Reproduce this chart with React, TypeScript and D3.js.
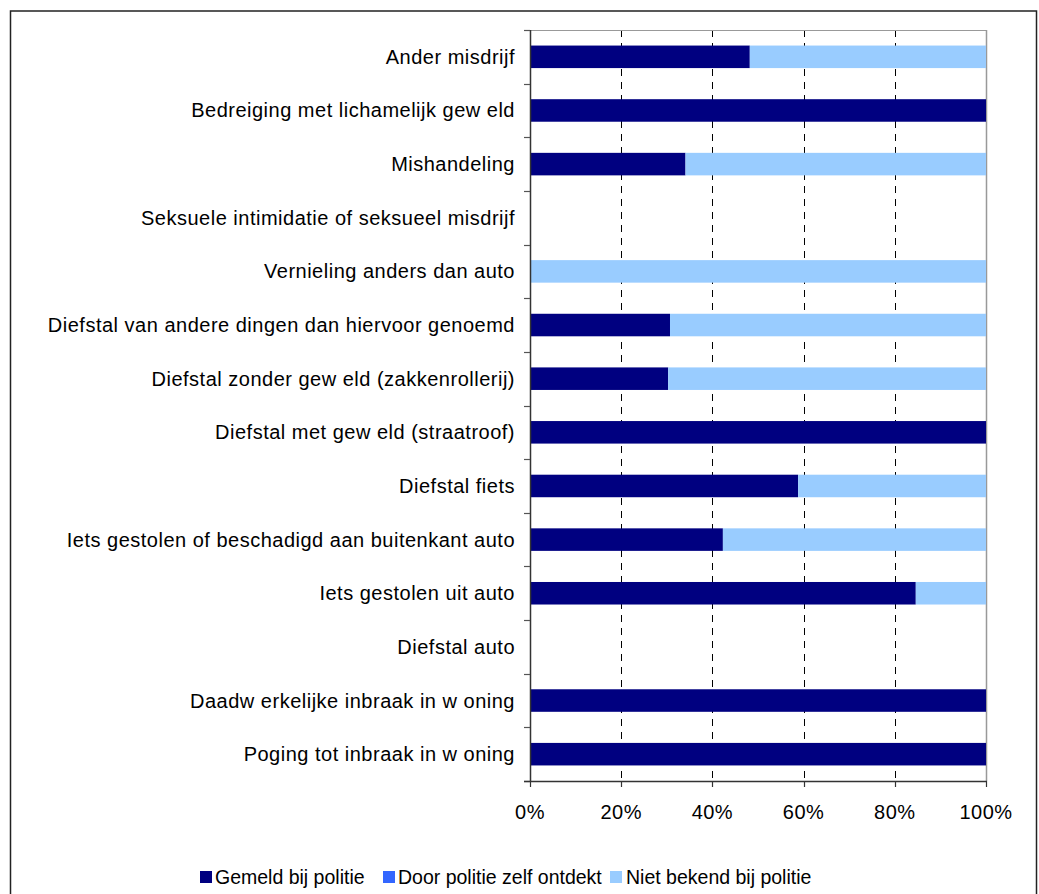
import React from "react";
import * as d3 from "d3";

const categories = [
  "Ander misdrijf",
  "Bedreiging met lichamelijk gew eld",
  "Mishandeling",
  "Seksuele intimidatie of seksueel misdrijf",
  "Vernieling anders dan auto",
  "Diefstal van andere dingen dan hiervoor genoemd",
  "Diefstal zonder gew eld (zakkenrollerij)",
  "Diefstal met gew eld (straatroof)",
  "Diefstal fiets",
  "Iets gestolen of beschadigd aan buitenkant auto",
  "Iets gestolen uit auto",
  "Diefstal auto",
  "Daadw erkelijke inbraak in w oning",
  "Poging tot inbraak in w oning",
];

const gemeld = [48.2, 100, 34.1, 0, 0, 30.7, 30.3, 100, 58.8, 42.3, 84.6, 0, 100, 100];
const ontdekt = [0, 0, 0, 0, 0, 0, 0, 0, 0, 0, 0, 0, 0, 0];
const nietBekend = [51.8, 0, 65.9, 0, 100, 69.3, 69.7, 0, 41.2, 57.7, 15.4, 0, 0, 0];

const seriesNames = ["Gemeld bij politie", "Door politie zelf ontdekt", "Niet bekend bij politie"];
const seriesColors = ["#000080", "#3366FF", "#99CCFF"];
const xTicks = [0, 20, 40, 60, 80, 100];

export default function App() {
  const W = 1039, H = 894;
  const x0 = 530, x1 = 986, y0 = 30, y1 = 781;
  const x = d3.scaleLinear().domain([0, 100]).range([x0, x1]);
  const y = d3.scaleBand().domain(categories).range([y0, y1]).paddingInner(0.58).paddingOuter(0.29);
  const band = (y1 - y0) / categories.length;
  const font = "Arial, 'Liberation Sans', sans-serif";
  const fs = 20;
  const ls = 0.5;
  const series = [gemeld, ontdekt, nietBekend];

  const legendItems = [
    { sx: 200, tx: 215 },
    { sx: 383, tx: 398 },
    { sx: 610, tx: 626 },
  ];

  return (
    <svg width={W} height={H} style={{ position: "absolute", left: 0, top: 0, background: "#fff" }}>
      <rect x={0} y={0} width={W} height={H} fill="#fff" />
      <rect x={10.5} y={11} width={1026} height={920} fill="#fff" stroke="#222" strokeWidth={1.5} />
      {xTicks.slice(1, -1).map((t) => (
        <line key={t} x1={Math.round(x(t)) + 0.5} x2={Math.round(x(t)) + 0.5} y1={y0} y2={y1} stroke="#000" strokeDasharray="7,6" />
      ))}
      <line x1={x0} x2={x1} y1={y0 + 0.5} y2={y0 + 0.5} stroke="#999" strokeWidth={1} />
      <line x1={x1 + 0.5} x2={x1 + 0.5} y1={y0} y2={y1} stroke="#999" strokeWidth={1.5} />
      {categories.map((c, i) => {
        let acc = 0;
        return series.map((s, k) => {
          const v = s[i];
          const start = acc;
          acc += v;
          if (v <= 0) return null;
          return (
            <rect key={c + k} x={x(start)} y={y(c)!} width={x(start + v) - x(start)} height={y.bandwidth()} fill={seriesColors[k]} />
          );
        });
      })}
      <line x1={x0 + 0.5} x2={x0 + 0.5} y1={y0} y2={y1 + 1} stroke="#333" strokeWidth={1.5} />
      {d3.range(categories.length + 1).map((i) => (
        <line key={"lt" + i} x1={x0 - 6} x2={x0} y1={Math.round(y0 + i * band) + 0.5} y2={Math.round(y0 + i * band) + 0.5} stroke="#555" strokeWidth={1.2} />
      ))}
      <line x1={x0 - 6} x2={x1 + 1} y1={y1 + 0.5} y2={y1 + 0.5} stroke="#333" strokeWidth={1.5} />
      {xTicks.map((t) => (
        <line key={"bt" + t} x1={Math.round(x(t)) + 0.5} x2={Math.round(x(t)) + 0.5} y1={y1} y2={y1 + 6} stroke="#333" strokeWidth={1.2} />
      ))}
      {xTicks.map((t) => (
        <text key={"bl" + t} x={x(t)} y={819} textAnchor="middle" fontFamily={font} fontSize={fs} letterSpacing={ls} fill="#000">
          {t + "%"}
        </text>
      ))}
      {categories.map((c) => (
        <text key={"cl" + c} x={515} y={y(c)! + y.bandwidth() / 2 + 7} textAnchor="end" fontFamily={font} fontSize={fs} letterSpacing={ls} fill="#000">
          {c}
        </text>
      ))}
      {seriesNames.map((n, k) => (
        <g key={n}>
          <rect x={legendItems[k].sx} y={871} width={12} height={12} fill={seriesColors[k]} />
          <text x={legendItems[k].tx} y={884} fontFamily={font} fontSize={19.5} letterSpacing={0} fill="#000">
            {n}
          </text>
        </g>
      ))}
    </svg>
  );
}
